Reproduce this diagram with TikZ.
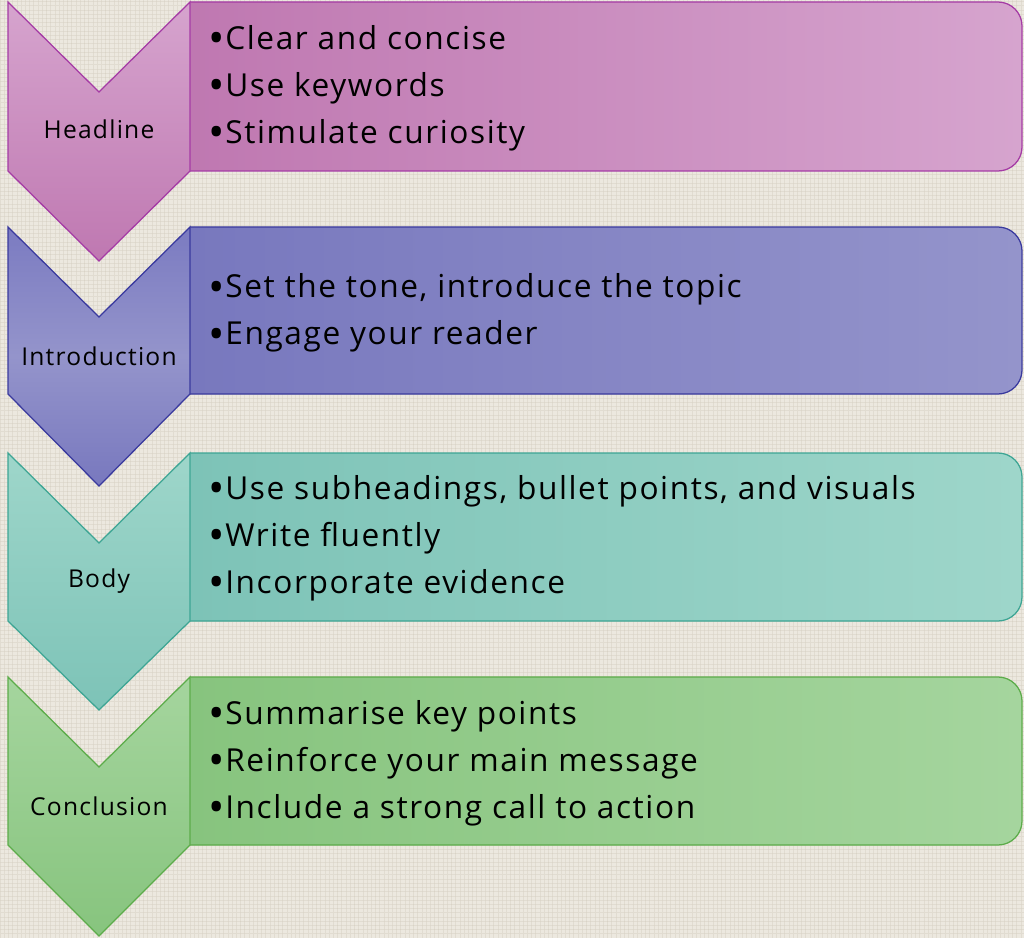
\documentclass[tikz,border=0pt]{standalone}
\usepackage{fontspec}
\setmainfont[LetterSpace=5]{Open Sans}
\usetikzlibrary{positioning,patterns}
\definecolor{linen}{HTML}{ECE8DF}
\definecolor{weave}{HTML}{D8D2C4}
\definecolor{hlline}{HTML}{A53BA5}
\definecolor{hltop}{HTML}{D6A4CE}
\definecolor{hlbot}{HTML}{BF78B1}
\definecolor{inline}{HTML}{3A3A9E}
\definecolor{intop}{HTML}{7B7BC1}
\definecolor{inmid}{HTML}{9494CB}
\definecolor{inbot}{HTML}{7878BE}
\definecolor{bdline}{HTML}{3DA594}
\definecolor{bdtop}{HTML}{9ED6CA}
\definecolor{bdbot}{HTML}{7DC3B7}
\definecolor{ccline}{HTML}{5CAC4A}
\definecolor{cctop}{HTML}{A5D59E}
\definecolor{ccbot}{HTML}{87C47E}
\newcommand{\blt}{{\fontsize{31}{31}\selectfont\raisebox{-3.2pt}{•}}}

\begin{document}
\begin{tikzpicture}[x=0.025cm, y=-0.025cm,
    stage/.style={font=\fontsize{17.5}{20}\selectfont},
    points/.style={anchor=west, align=left, font=\fontsize{22.5}{33.4}\selectfont},
    box/.style={line width=0.9pt, rounded corners=0.6cm}]
    \fill[linen] (0,0) rectangle (1024,938);
    \fill[pattern=grid, pattern color=weave, opacity=0.5] (0,0) rectangle (1024,938);

    % Headline
    \draw[box, hlline, left color=hlbot, right color=hltop] (190,2) -- (1022,2) -- (1022,171) -- (190,171);
    \draw[hlline, line width=0.9pt, top color=hltop, bottom color=hlbot] (8,2) -- (99,92) -- (190,2) -- (190,171) -- (99,261) -- (8,171) -- cycle;
    \node(hl) [stage] at (99,129) {Headline};
    \node(hlpts) [points] at (204,88) {\blt Clear and concise\\\blt Use keywords\\\blt Stimulate curiosity};

    % Introduction
    \draw[box, inline, left color=inbot, right color=inmid] (190,227) -- (1022,227) -- (1022,394) -- (190,394);
    \draw[inline, line width=0.9pt, top color=intop, bottom color=inbot, middle color=inmid] (8,227) -- (99,317) -- (190,227) -- (190,394) -- (99,486) -- (8,394) -- cycle;
    \node(in) [stage] at (99,356) {Introduction};
    \node(inpts) [points] at (204,313) {\blt Set the tone, introduce the topic\\\blt Engage your reader};

    % Body
    \draw[box, bdline, left color=bdbot, right color=bdtop] (190,453) -- (1022,453) -- (1022,621) -- (190,621);
    \draw[bdline, line width=0.9pt, top color=bdtop, bottom color=bdbot] (8,453) -- (99,543) -- (190,453) -- (190,621) -- (99,710) -- (8,621) -- cycle;
    \node(bd) [stage] at (99,581) {Body};
    \node(bdpts) [points] at (204,538) {\blt Use subheadings, bullet points, and visuals\\\blt Write fluently\\\blt Incorporate evidence};

    % Conclusion
    \draw[box, ccline, left color=ccbot, right color=cctop] (190,677) -- (1022,677) -- (1022,845) -- (190,845);
    \draw[ccline, line width=0.9pt, top color=cctop, bottom color=ccbot] (8,677) -- (99,767) -- (190,677) -- (190,845) -- (99,936) -- (8,845) -- cycle;
    \node(cc) [stage] at (99,806) {Conclusion};
    \node(ccpts) [points] at (204,763) {\blt Summarise key points\\\blt Reinforce your main message\\\blt Include a strong call to action};
\end{tikzpicture}
\end{document}
